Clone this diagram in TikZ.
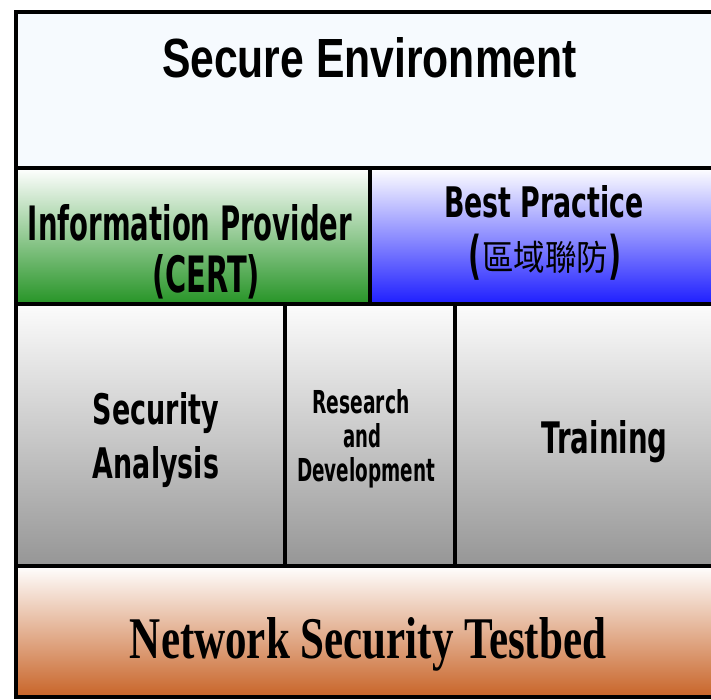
\documentclass[tikz,border=0pt]{standalone}
\usepackage{graphicx}
\usepackage{fontspec}
\newfontfamily\arialf{Liberation Sans}
\newfontfamily\tahf{DejaVu Sans}
\newfontfamily\timesf{Liberation Serif}
\newfontfamily\cjkf{Noto Sans CJK TC}
\definecolor{sefill}{RGB}{246,250,254}
\definecolor{grn}{RGB}{38,148,38}
\definecolor{blu}{RGB}{30,30,255}
\definecolor{gry}{RGB}{150,150,150}
\definecolor{gtop}{RGB}{252,252,252}
\definecolor{org}{RGB}{200,100,40}
\newcommand{\fitbox}[3]{\resizebox{#1}{#2}{#3}}
\newcommand{\bparen}[1]{\raisebox{-3pt}{\scalebox{0.55}[1]{\fontsize{52}{52}\selectfont\tahf\bfseries #1}}}
\tikzset{
  box/.style={draw=black, line width=4pt, inner sep=0pt, outer sep=0pt, anchor=north west, rectangle},
  lbl/.style={anchor=base, inner sep=0pt}
}
\begin{document}
\begin{tikzpicture}[x=1pt,y=-1pt]
\useasboundingbox (0,0) rectangle (711,699);
\clip (0,0) rectangle (711,699);
% boxes
\node[box, fill=sefill, minimum width=704pt, minimum height=156pt] (se) at (16,12) {};
\node[box, top color=white, bottom color=grn, minimum width=353.5pt, minimum height=136pt] (ip) at (16,168) {};
\node[box, top color=white, bottom color=blu, minimum width=350.5pt, minimum height=136pt] (bp) at (369.5,168) {};
\node[box, top color=gtop, bottom color=gry, minimum width=269pt, minimum height=261.5pt] (sa) at (16,304) {};
\node[box, top color=gtop, bottom color=gry, minimum width=170pt, minimum height=261.5pt] (rd) at (285,304) {};
\node[box, top color=gtop, bottom color=gry, minimum width=265pt, minimum height=261.5pt] (tr) at (455,304) {};
\node[box, top color=white, bottom color=org, minimum width=704pt, minimum height=131.5pt] (nst) at (16,565.5) {};
% labels
\node[lbl] (tse) at (369.5,77) {\fitbox{415pt}{40pt}{\arialf\bfseries Secure Environment}};
\node[lbl] (tip1) at (190,240) {\fitbox{324pt}{36pt}{\tahf\bfseries Information Provider}};
\node[lbl] (tip2) at (206,292) {\fitbox{108pt}{38pt}{\tahf\bfseries (CERT)}};
\node[lbl] (tbp1) at (544,217) {\fitbox{200pt}{32pt}{\tahf\bfseries Best Practice}};
\node[lbl] (tbp2) at (545,270) {\bparen{(}\scalebox{0.9}[1]{\fontsize{35}{35}\selectfont\cjkf 區域聯防}\bparen{)}};
\node[lbl] (tsa1) at (156,424) {\fitbox{126pt}{32pt}{\tahf\bfseries Security}};
\node[lbl] (tsa2) at (156,478) {\fitbox{126pt}{32pt}{\tahf\bfseries Analysis}};
\node[lbl] (trd1) at (361,413) {\fitbox{97pt}{24pt}{\tahf\bfseries Research}};
\node[lbl] (trd2) at (362,447) {\fitbox{38pt}{24pt}{\tahf\bfseries and}};
\node[lbl] (trd3) at (366,481) {\fitbox{138pt}{24pt}{\tahf\bfseries Development}};
\node[lbl] (ttr) at (604.5,453) {\fitbox{126pt}{33pt}{\tahf\bfseries Training}};
\node[lbl] (tnst) at (368,658) {\fitbox{476pt}{41pt}{\timesf\bfseries Network Security Testbed}};
\end{tikzpicture}
\end{document}
